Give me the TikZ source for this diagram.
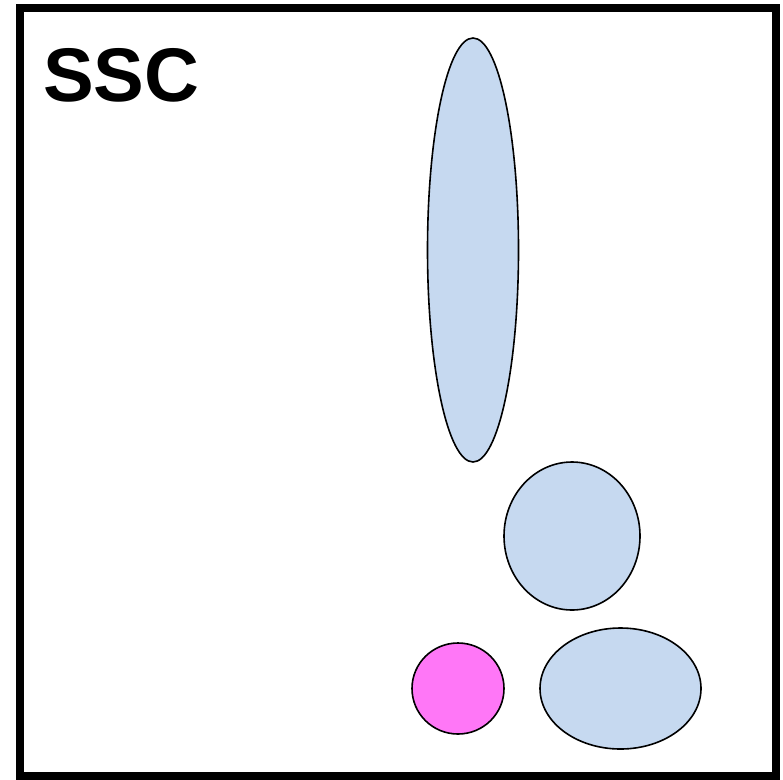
\documentclass[tikz,border=0pt]{standalone}
\usepackage{fontspec}
\setmainfont{Liberation Sans}
\definecolor{paleblue}{HTML}{C6D9F0}
\definecolor{pinkdot}{HTML}{FF77F7}
\begin{document}
\begin{tikzpicture}[x=1pt,y=-1pt,
  blob/.style={draw=black,line width=1.6pt,fill=paleblue},
  dot/.style={draw=black,line width=1.6pt,fill=pinkdot}]
\useasboundingbox (0,0) rectangle (783,779);
% frame
\draw[line width=8pt] (19.5,7.5) rectangle (775.5,776);
% title
\node[anchor=base west,inner sep=0pt,font=\bfseries\fontsize{76}{76}\selectfont] (title) at (43,101) {SSC};
% shapes
\draw[blob] (473,250) ellipse [x radius=45.5, y radius=212];
\draw[blob] (572,536) ellipse [x radius=68, y radius=74];
\draw[blob] (620.5,688.5) ellipse [x radius=80.5, y radius=60.5];
\draw[dot] (458,688.5) ellipse [x radius=46, y radius=45.5];
\end{tikzpicture}
\end{document}
